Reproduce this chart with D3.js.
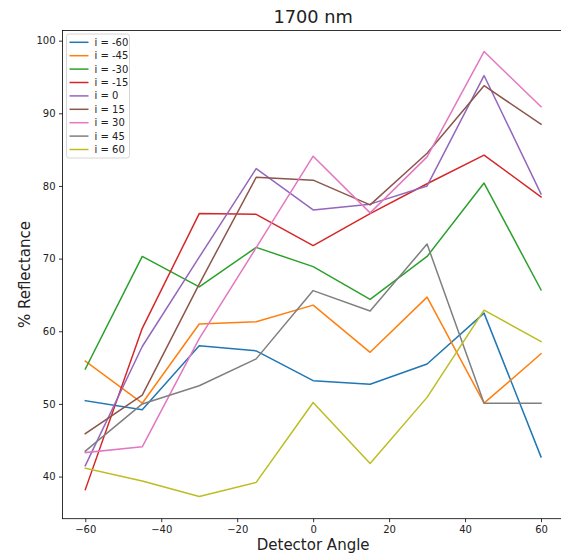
<!DOCTYPE html>
<html>
<head>
<meta charset="utf-8">
<script src="https://cdn.jsdelivr.net/npm/d3@7"></script>
<style>
  html, body { margin: 0; padding: 0; background: #fff; }
  svg { display: block; font-family: "DejaVu Sans", sans-serif; }
</style>
</head>
<body>
<svg id="chart" width="561" height="554"></svg>
<script>
const angles = [-60, -45, -30, -15, 0, 15, 30, 45, 60];
const seriesNames = ["i = -60", "i = -45", "i = -30", "i = -15", "i = 0", "i = 15", "i = 30", "i = 45", "i = 60"];
const sMinus60 = [50.45, 49.2, 58.0, 57.3, 53.2, 52.7, 55.5, 62.5, 42.7];
const sMinus45 = [55.9, 50.1, 61.0, 61.3, 63.6, 57.1, 64.7, 50.1, 56.9];
const sMinus30 = [54.8, 70.3, 66.1, 71.55, 68.9, 64.4, 70.3, 80.4, 65.7];
const sMinus15 = [38.2, 60.4, 76.2, 76.1, 71.8, 76.2, 80.3, 84.25, 78.5];
const s0 = [41.5, 57.9, 70.2, 82.4, 76.7, 77.5, 80.0, 95.2, 78.9];
const s15 = [45.9, 51.2, 66.5, 81.2, 80.8, 77.4, 84.5, 93.8, 88.5];
const s30 = [43.3, 44.1, 59.0, 71.5, 84.1, 76.3, 84.0, 98.5, 90.9];
const s45 = [43.5, 50.0, 52.5, 56.2, 65.6, 62.8, 72.0, 50.1, 50.1];
const s60 = [41.15, 39.4, 37.25, 39.2, 50.2, 41.8, 50.9, 62.9, 58.6];
const allSeries = [sMinus60, sMinus45, sMinus30, sMinus15, s0, s15, s30, s45, s60];
const xTicks = [-60, -40, -20, 0, 20, 40, 60];
const yTicks = [40, 50, 60, 70, 80, 90, 100];
const colors = ["#1f77b4", "#ff7f0e", "#2ca02c", "#d62728", "#9467bd", "#8c564b", "#e377c2", "#7f7f7f", "#bcbd22"];

const svg = d3.select("#chart");
const L = 62.5, R = 563.8, T = 30.5, B = 518.7;

const x = d3.scaleLinear().domain([-66, 66]).range([L, R]);
const y = d3.scaleLinear().domain([34.2, 101.4]).range([B, T]);

const fmt = d => d < 0 ? "\u2212" + Math.abs(d) : String(d);

const xAxis = d3.axisBottom(x).tickValues(xTicks).tickSize(3.5).tickPadding(3.5).tickFormat(fmt);
const yAxis = d3.axisLeft(y).tickValues(yTicks).tickSize(3.5).tickPadding(3.5).tickFormat(fmt);

const gx = svg.append("g").attr("transform", `translate(0,${B})`).call(xAxis);
const gy = svg.append("g").attr("transform", `translate(${L},0)`).call(yAxis);
[gx, gy].forEach(g => {
  g.select(".domain").remove();
  g.selectAll(".tick line").attr("stroke", "#000").attr("stroke-width", 0.8);
  g.selectAll(".tick text").attr("fill", "#222").style("font-size", "10px").style("font-family", "DejaVu Sans");
});

const line = d3.line().x((d, i) => x(angles[i])).y(d => y(d));
const plot = svg.append("g");
plot.append("defs").append("clipPath").attr("id", "clip")
  .append("rect").attr("x", L).attr("y", T).attr("width", R - L).attr("height", B - T);
const lg = plot.append("g").attr("clip-path", "url(#clip)");
allSeries.forEach((s, k) => {
  lg.append("path").datum(s).attr("d", line)
    .attr("fill", "none").attr("stroke", colors[k]).attr("stroke-width", 1.5)
    .attr("stroke-linejoin", "round").attr("stroke-linecap", "square");
});

svg.append("rect").attr("x", L).attr("y", T).attr("width", R - L).attr("height", B - T)
  .attr("fill", "none").attr("stroke", "#000").attr("stroke-width", 0.8);

const legX = 66.5, legY = 34, rowH = 13.4;
svg.append("rect").attr("x", legX).attr("y", legY).attr("width", 63).attr("height", 124)
  .attr("rx", 2.5).attr("fill", "#fff").attr("fill-opacity", 0.8)
  .attr("stroke", "#ccc").attr("stroke-width", 0.8);
seriesNames.forEach((name, k) => {
  const cy = 42.3 + k * rowH;
  svg.append("line").attr("x1", 69.5).attr("x2", 88.5).attr("y1", cy).attr("y2", cy)
    .attr("stroke", colors[k]).attr("stroke-width", 1.5);
  svg.append("text").attr("x", 94.5).attr("y", cy).attr("dy", "0.35em")
    .style("font-size", "10px").attr("fill", "#222").text(name);
});

svg.append("text").attr("x", (L + R) / 2).attr("y", 23.3).attr("text-anchor", "middle")
  .style("font-size", "17.8px").attr("fill", "#222").text("1700 nm");
svg.append("text").attr("x", (L + R) / 2).attr("y", 550).attr("text-anchor", "middle")
  .style("font-size", "15px").attr("fill", "#222").text("Detector Angle");
svg.append("text").attr("transform", `translate(30,${(T + B) / 2}) rotate(-90)`)
  .attr("text-anchor", "middle").style("font-size", "15px").attr("fill", "#222").text("% Reflectance");
</script>
</body>
</html>
